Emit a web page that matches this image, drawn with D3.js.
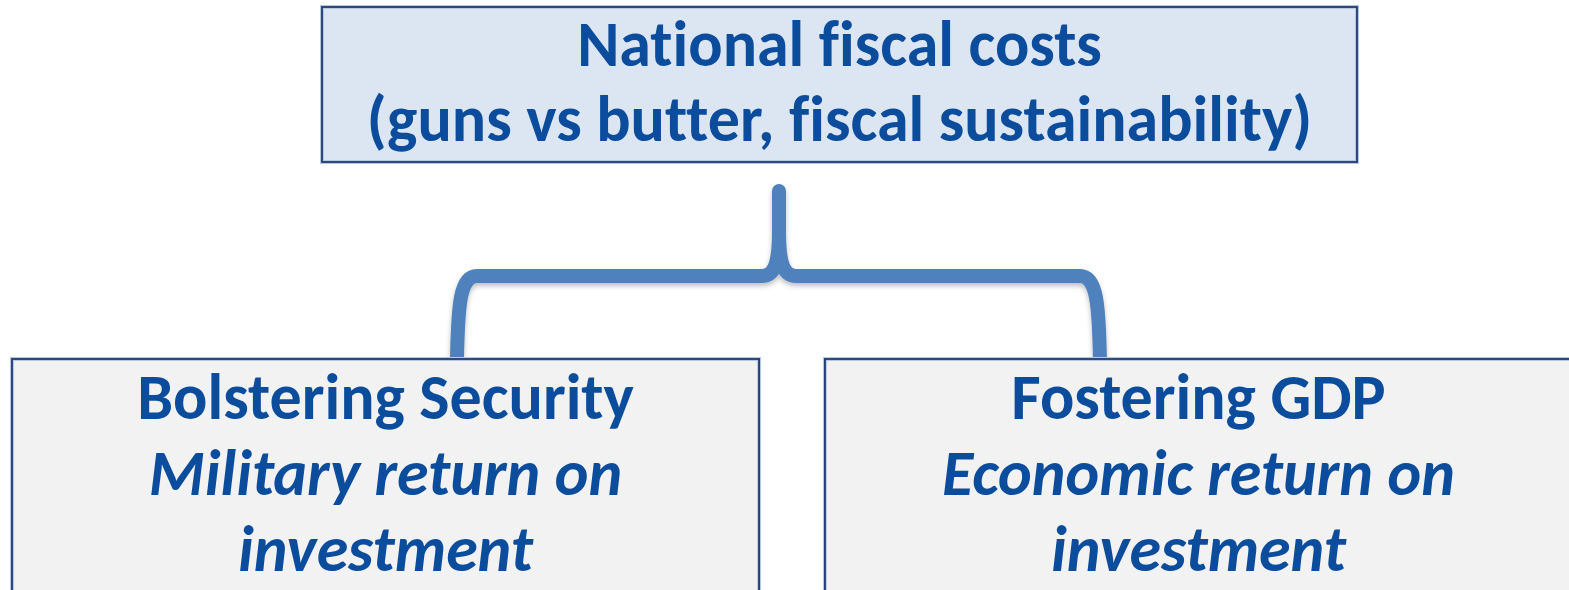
<!DOCTYPE html>
<html>
<head>
<meta charset="utf-8">
<script src="https://cdn.jsdelivr.net/npm/d3@7"></script>
<style>
  body { margin: 0; background: #ffffff; }
  svg { display: block; }
  text { font-variant-ligatures: none; }
</style>
</head>
<body>
<svg id="diagram"></svg>
<script>
// TEXT
let top_lines = ["National fiscal costs", "(guns vs butter, fiscal sustainability)"]
let box_titles = ["Bolstering Security", "Fostering GDP"]
let box_subtitles = [["Military return on", "investment"], ["Economic return on", "investment"]]

let width = 1569
let height = 590
let text_color = '#0b4c9c'
let font = "Carlito, Lato, 'Open Sans', sans-serif"
let font_size = 64

let svg = d3.select('#diagram')
    .attr('width', width)
    .attr('height', height)

// SHADOW FOR BRACE
let defs = svg.append('defs')
let shadow = defs.append('filter')
    .attr('id', 'shadow')
    .attr('x', '-20%').attr('y', '-20%')
    .attr('width', '140%').attr('height', '160%')
shadow.append('feDropShadow')
    .attr('dx', 0).attr('dy', 3)
    .attr('stdDeviation', 2.5)
    .attr('flood-color', '#000')
    .attr('flood-opacity', 0.25)

// TOP BOX
let top_box = {x: 322, y: 7, w: 1035, h: 155}

svg.append('rect')
    .attr('x', top_box.x)
    .attr('y', top_box.y)
    .attr('width', top_box.w)
    .attr('height', top_box.h)
    .attr('fill', '#dce6f2')
    .attr('stroke', '#b8c7e0')
    .attr('stroke-width', 4)
svg.append('rect')
    .attr('x', top_box.x)
    .attr('y', top_box.y)
    .attr('width', top_box.w)
    .attr('height', top_box.h)
    .attr('fill', 'none')
    .attr('stroke', '#1f3b73')
    .attr('stroke-width', 1.8)

svg.append('g')
    .selectAll('text')
    .data(top_lines)
    .enter()
    .append('text')
    .attr('x', top_box.x + top_box.w / 2)
    .attr('y', (d, i) => 66 + i * 75)
    .attr('text-anchor', 'middle')
    .attr('font-family', font)
    .attr('font-weight', 'bold')
    .attr('font-size', font_size)
    .attr('fill', text_color)
    .text(d => d)

// BOTTOM BOXES
let x = d3.scaleBand()
    .domain(box_titles)
    .range([12, 1572])
    .paddingInner(0.081)

let box_top = 359
let box_h = 260

// BRACE (drawn before the boxes so their edges sit on top)
let tip = {x: 779, y: 191}
let bar_y = 276
let left_leg = x(box_titles[0]) + 445
let right_leg = x(box_titles[1]) + 275

let brace = d3.path()
brace.moveTo(left_leg, box_top)
brace.bezierCurveTo(left_leg + 1, 305, left_leg + 3, bar_y, left_leg + 20, bar_y)
brace.lineTo(tip.x - 17, bar_y)
brace.bezierCurveTo(tip.x - 4, bar_y, tip.x, bar_y - 14, tip.x, tip.y + 40)
brace.lineTo(tip.x, tip.y)
brace.moveTo(tip.x, tip.y + 40)
brace.bezierCurveTo(tip.x, bar_y - 14, tip.x + 4, bar_y, tip.x + 17, bar_y)
brace.lineTo(right_leg - 20, bar_y)
brace.bezierCurveTo(right_leg - 3, bar_y, right_leg - 1, 305, right_leg, box_top)

svg.append('path')
    .attr('d', brace.toString())
    .attr('fill', 'none')
    .attr('stroke', '#4f81bd')
    .attr('stroke-width', 14)
    .attr('stroke-linecap', 'round')
    .attr('stroke-linejoin', 'round')
    .attr('filter', 'url(#shadow)')

let boxes = svg.append('g')
    .selectAll('.box')
    .data(box_titles)
    .enter()
    .append('g')
    .classed('box', true)

boxes.append('rect')
    .attr('x', d => x(d))
    .attr('y', box_top)
    .attr('width', x.bandwidth())
    .attr('height', box_h)
    .attr('fill', '#f2f2f2')
    .attr('stroke', '#b8c7e0')
    .attr('stroke-width', 4)
boxes.append('rect')
    .attr('x', d => x(d))
    .attr('y', box_top)
    .attr('width', x.bandwidth())
    .attr('height', box_h)
    .attr('fill', 'none')
    .attr('stroke', '#1f3b73')
    .attr('stroke-width', 1.8)

boxes.append('text')
    .attr('x', d => x(d) + x.bandwidth() / 2)
    .attr('y', 419)
    .attr('text-anchor', 'middle')
    .attr('font-family', font)
    .attr('font-weight', 'bold')
    .attr('font-size', font_size)
    .attr('fill', text_color)
    .text(d => d)

boxes.each(function(d, i){
    d3.select(this)
        .selectAll('.sub')
        .data(box_subtitles[i])
        .enter()
        .append('text')
        .classed('sub', true)
        .attr('x', x(d) + x.bandwidth() / 2)
        .attr('y', (s, j) => 495 + j * 76)
        .attr('text-anchor', 'middle')
        .attr('font-family', font)
        .attr('font-weight', 'bold')
        .attr('font-style', 'italic')
        .attr('font-size', font_size)
        .attr('fill', text_color)
        .text(s => s)
})
</script>
</body>
</html>
